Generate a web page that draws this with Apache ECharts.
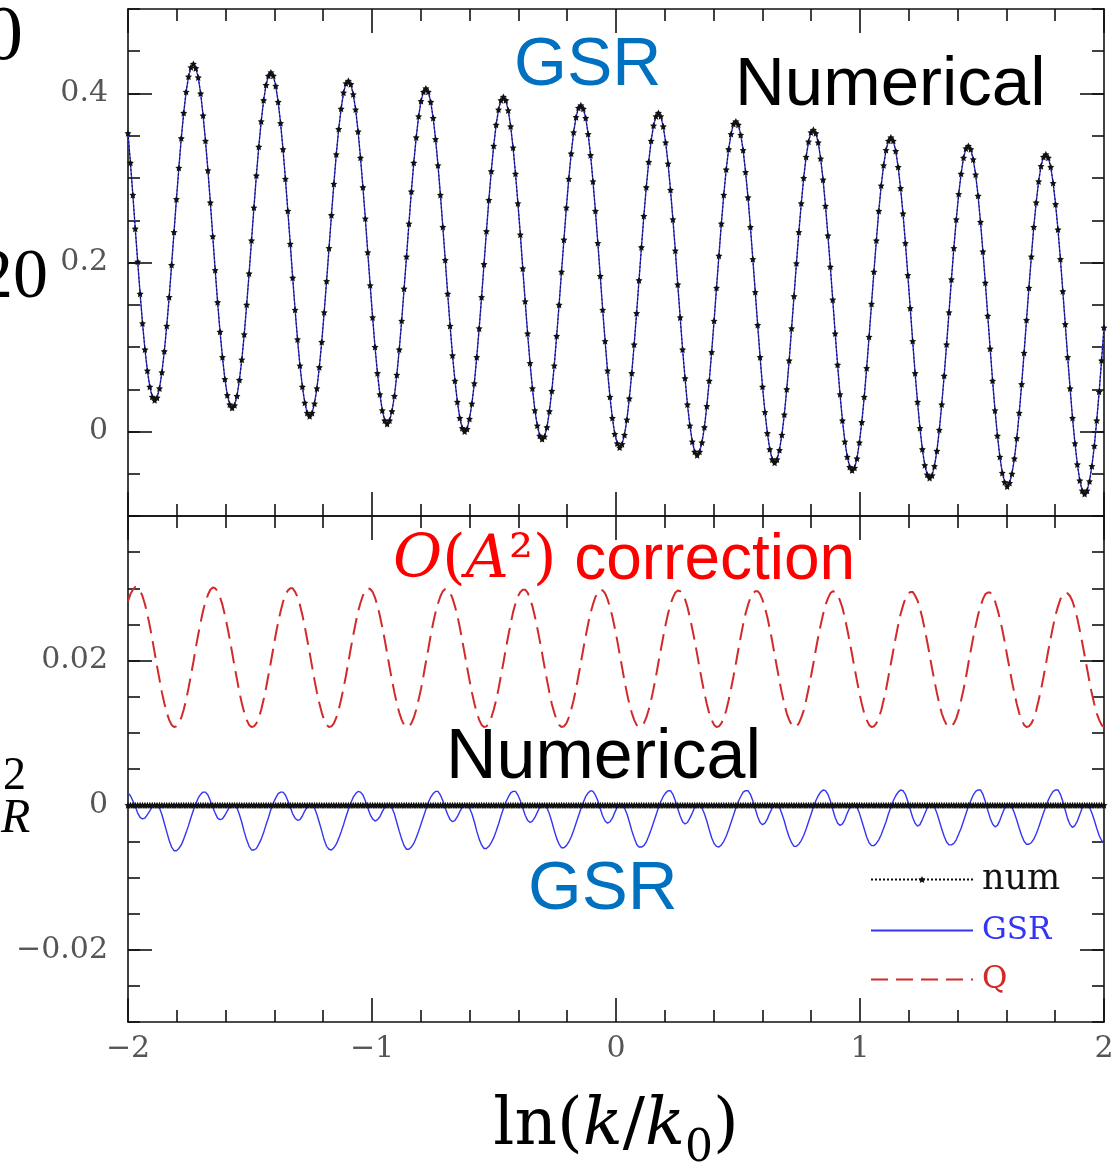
<!DOCTYPE html>
<html>
<head>
<meta charset="utf-8">
<script src="https://cdn.jsdelivr.net/npm/echarts@6/dist/echarts.min.js"></script>
<style>
  html, body { margin: 0; padding: 0; background: #fff; }
  #chart { width: 1114px; height: 1162px; }
</style>
</head>
<body>
<div id="chart"></div>
<script>
// ln(k/k0) range shared by both panels; every series is sampled on an even grid over it
const LNK_MIN = -2;
const LNK_MAX = 2;

// tick positions
const xMajorTicks = [-2, -1, 0, 1, 2];
const topMajorTicks = [0, 0.2, 0.4];
const topMinorTicks = [-0.1, -0.05, 0, 0.05, 0.1, 0.15, 0.2, 0.25, 0.3, 0.35, 0.4, 0.45, 0.5];
const bottomMajorTicks = [-0.02, 0, 0.02];
const bottomMinorTicks = [-0.03, -0.025, -0.02, -0.015, -0.01, -0.005, 0, 0.005, 0.01, 0.015, 0.02, 0.025, 0.03, 0.035, 0.04];

// upper panel: oscillating spectrum (numerical result; the GSR curve coincides with it)
const spectrum = [
  0.353,0.318,0.280,0.240,0.201,0.163,0.128,0.097,0.072,0.053,0.041,0.037,0.040,0.051,0.070,0.095,0.125,0.159,0.197,0.236,0.275,0.312,0.347,0.377,0.402,0.420,0.431,0.435,0.430,0.419,0.400,0.374,
  0.344,0.309,0.271,0.231,0.191,0.153,0.118,0.088,0.062,0.043,0.032,0.028,0.031,0.042,0.061,0.085,0.115,0.150,0.187,0.226,0.265,0.303,0.337,0.367,0.392,0.410,0.421,0.425,0.421,0.409,0.390,0.365,
  0.334,0.299,0.261,0.222,0.182,0.144,0.109,0.078,0.053,0.034,0.022,0.018,0.022,0.033,0.051,0.076,0.106,0.141,0.178,0.217,0.256,0.293,0.328,0.358,0.382,0.401,0.412,0.415,0.411,0.399,0.381,0.355,
  0.324,0.289,0.252,0.212,0.173,0.135,0.100,0.069,0.044,0.025,0.013,0.009,0.013,0.024,0.042,0.067,0.097,0.131,0.169,0.207,0.246,0.284,0.318,0.348,0.373,0.391,0.402,0.406,0.402,0.390,0.371,0.346,
  0.315,0.280,0.242,0.203,0.163,0.125,0.090,0.060,0.035,0.016,0.004,0.000,0.003,0.015,0.033,0.057,0.088,0.122,0.159,0.198,0.237,0.274,0.308,0.338,0.363,0.381,0.392,0.396,0.392,0.380,0.361,0.336,
  0.305,0.270,0.233,0.193,0.154,0.116,0.081,0.051,0.025,0.007,-0.005,-0.009,-0.006,0.005,0.024,0.048,0.078,0.113,0.150,0.189,0.227,0.265,0.299,0.329,0.354,0.372,0.383,0.386,0.382,0.371,0.352,0.327,
  0.296,0.261,0.223,0.184,0.144,0.107,0.072,0.041,0.016,-0.003,-0.014,-0.019,-0.015,-0.004,0.014,0.039,0.069,0.103,0.140,0.179,0.218,0.255,0.289,0.319,0.344,0.362,0.373,0.377,0.373,0.361,0.342,0.317,
  0.286,0.251,0.214,0.174,0.135,0.097,0.063,0.032,0.007,-0.012,-0.024,-0.028,-0.024,-0.013,0.005,0.030,0.060,0.094,0.131,0.170,0.208,0.246,0.280,0.310,0.334,0.352,0.364,0.367,0.363,0.351,0.333,0.307,
  0.277,0.242,0.204,0.165,0.126,0.088,0.053,0.023,-0.002,-0.021,-0.033,-0.037,-0.033,-0.022,-0.004,0.020,0.050,0.084,0.122,0.160,0.199,0.236,0.270,0.300,0.325,0.343,0.354,0.357,0.353,0.342,0.323,0.298,
  0.267,0.232,0.195,0.156,0.116,0.079,0.044,0.013,-0.012,-0.030,-0.042,-0.046,-0.043,-0.032,-0.013,0.011,0.041,0.075,0.112,0.151,0.189,0.226,0.261,0.291,0.315,0.333,0.344,0.348,0.344,0.332,0.313,0.288,
  0.258,0.223,0.185,0.146,0.107,0.069,0.035,0.004,-0.021,-0.040,-0.051,-0.055,-0.052,-0.041,-0.023,0.002,0.032,0.066,0.103,0.141,0.180,0.217,0.251,0.281,0.305,0.324,0.335,0.338,0.334,0.322,0.304,0.279,
  0.248,0.213,0.176,0.137,0.098,0.060,0.025,-0.005,-0.030,-0.049,-0.060,-0.065,-0.061,-0.050,-0.032,-0.008,0.022,0.056,0.093,0.132,0.170,0.207,0.242,0.271,0.296,0.314,0.325,0.328,0.324,0.313,0.294,0.269,
  0.239,0.204,0.166,0.127,0.088,0.051,0.016,-0.014,-0.039,-0.058,-0.070,-0.074,-0.070,-0.059,-0.041,-0.017,0.013,0.047,0.084,0.123
];

// lower panel: second-order correction Q
const qCorrection = [
  0.0282,0.0292,0.0298,0.0302,0.0301,0.0297,0.0289,0.0278,0.0264,0.0248,0.0230,0.0211,0.0192,0.0174,0.0156,0.0141,0.0128,0.0118,0.0111,0.0108,0.0109,0.0113,0.0121,0.0132,0.0146,0.0162,0.0180,0.0198,0.0218,0.0236,0.0253,0.0269,
  0.0281,0.0291,0.0298,0.0301,0.0300,0.0296,0.0288,0.0277,0.0263,0.0247,0.0230,0.0211,0.0192,0.0174,0.0156,0.0141,0.0128,0.0118,0.0111,0.0108,0.0109,0.0113,0.0121,0.0132,0.0146,0.0162,0.0180,0.0198,0.0217,0.0236,0.0253,0.0268,
  0.0281,0.0291,0.0297,0.0300,0.0300,0.0295,0.0288,0.0277,0.0263,0.0247,0.0229,0.0211,0.0192,0.0173,0.0156,0.0141,0.0128,0.0118,0.0111,0.0108,0.0109,0.0113,0.0121,0.0132,0.0146,0.0162,0.0179,0.0198,0.0217,0.0235,0.0252,0.0268,
  0.0280,0.0290,0.0297,0.0300,0.0299,0.0295,0.0287,0.0276,0.0262,0.0246,0.0229,0.0210,0.0191,0.0173,0.0156,0.0141,0.0128,0.0118,0.0111,0.0108,0.0109,0.0113,0.0121,0.0132,0.0146,0.0161,0.0179,0.0198,0.0216,0.0235,0.0252,0.0267,
  0.0279,0.0289,0.0296,0.0299,0.0298,0.0294,0.0286,0.0275,0.0262,0.0246,0.0228,0.0210,0.0191,0.0173,0.0156,0.0141,0.0128,0.0118,0.0111,0.0108,0.0109,0.0113,0.0121,0.0132,0.0145,0.0161,0.0179,0.0197,0.0216,0.0234,0.0251,0.0267,
  0.0279,0.0289,0.0295,0.0298,0.0298,0.0294,0.0286,0.0275,0.0261,0.0245,0.0228,0.0210,0.0191,0.0173,0.0156,0.0140,0.0128,0.0118,0.0111,0.0108,0.0109,0.0113,0.0121,0.0132,0.0145,0.0161,0.0179,0.0197,0.0216,0.0234,0.0251,0.0266,
  0.0278,0.0288,0.0295,0.0298,0.0297,0.0293,0.0285,0.0274,0.0261,0.0245,0.0228,0.0209,0.0191,0.0172,0.0155,0.0140,0.0128,0.0118,0.0111,0.0108,0.0109,0.0113,0.0121,0.0132,0.0145,0.0161,0.0178,0.0197,0.0215,0.0233,0.0250,0.0265,
  0.0278,0.0287,0.0294,0.0297,0.0296,0.0292,0.0285,0.0274,0.0260,0.0244,0.0227,0.0209,0.0190,0.0172,0.0155,0.0140,0.0127,0.0118,0.0111,0.0108,0.0109,0.0113,0.0121,0.0131,0.0145,0.0161,0.0178,0.0196,0.0215,0.0233,0.0250,0.0265,
  0.0277,0.0287,0.0293,0.0296,0.0296,0.0292,0.0284,0.0273,0.0260,0.0244,0.0227,0.0208,0.0190,0.0172,0.0155,0.0140,0.0127,0.0118,0.0111,0.0108,0.0109,0.0113,0.0121,0.0131,0.0145,0.0161,0.0178,0.0196,0.0215,0.0233,0.0249,0.0264,
  0.0277,0.0286,0.0293,0.0296,0.0295,0.0291,0.0283,0.0273,0.0259,0.0243,0.0226,0.0208,0.0190,0.0172,0.0155,0.0140,0.0127,0.0118,0.0111,0.0108,0.0109,0.0113,0.0121,0.0131,0.0145,0.0160,0.0178,0.0196,0.0214,0.0232,0.0249,0.0264,
  0.0276,0.0286,0.0292,0.0295,0.0295,0.0290,0.0283,0.0272,0.0259,0.0243,0.0226,0.0208,0.0189,0.0172,0.0155,0.0140,0.0127,0.0118,0.0111,0.0108,0.0109,0.0113,0.0120,0.0131,0.0145,0.0160,0.0177,0.0196,0.0214,0.0232,0.0248,0.0263,
  0.0275,0.0285,0.0292,0.0294,0.0294,0.0290,0.0282,0.0271,0.0258,0.0243,0.0226,0.0207,0.0189,0.0171,0.0155,0.0140,0.0127,0.0118,0.0111,0.0108,0.0109,0.0113,0.0120,0.0131,0.0145,0.0160,0.0177,0.0195,0.0214,0.0231,0.0248,0.0263,
  0.0275,0.0285,0.0291,0.0294,0.0293,0.0289,0.0282,0.0271,0.0258,0.0242,0.0225,0.0207,0.0189,0.0171,0.0154,0.0140,0.0127,0.0118,0.0111,0.0108
];

// lower panel: GSR minus numerical
const gsrDiff = [
  0.0017,0.0013,0.0006,-0.0002,-0.0011,-0.0017,-0.0019,-0.0018,-0.0013,-0.0008,-0.0002,0.0001,0.0001,-0.0004,-0.0013,-0.0025,-0.0037,-0.0049,-0.0058,-0.0063,-0.0063,-0.0060,-0.0055,-0.0047,-0.0038,-0.0028,-0.0017,-0.0007,0.0002,0.0010,0.0015,0.0018,
  0.0018,0.0014,0.0006,-0.0003,-0.0011,-0.0018,-0.0020,-0.0019,-0.0014,-0.0008,-0.0002,0.0001,0.0001,-0.0004,-0.0013,-0.0024,-0.0037,-0.0048,-0.0057,-0.0062,-0.0062,-0.0060,-0.0054,-0.0047,-0.0038,-0.0027,-0.0017,-0.0006,0.0003,0.0010,0.0016,0.0018,
  0.0018,0.0014,0.0006,-0.0003,-0.0012,-0.0018,-0.0021,-0.0020,-0.0015,-0.0008,-0.0003,0.0001,0.0001,-0.0004,-0.0013,-0.0024,-0.0036,-0.0048,-0.0057,-0.0061,-0.0062,-0.0059,-0.0054,-0.0046,-0.0037,-0.0027,-0.0016,-0.0006,0.0003,0.0011,0.0016,0.0019,
  0.0018,0.0014,0.0006,-0.0004,-0.0013,-0.0019,-0.0022,-0.0020,-0.0016,-0.0009,-0.0003,0.0001,0.0001,-0.0004,-0.0012,-0.0024,-0.0036,-0.0047,-0.0056,-0.0061,-0.0061,-0.0058,-0.0053,-0.0045,-0.0036,-0.0026,-0.0016,-0.0006,0.0004,0.0011,0.0016,0.0019,
  0.0019,0.0014,0.0006,-0.0004,-0.0013,-0.0020,-0.0023,-0.0021,-0.0016,-0.0009,-0.0003,0.0001,0.0001,-0.0004,-0.0012,-0.0023,-0.0036,-0.0047,-0.0055,-0.0060,-0.0060,-0.0057,-0.0052,-0.0045,-0.0036,-0.0026,-0.0015,-0.0005,0.0004,0.0011,0.0017,0.0019,
  0.0019,0.0014,0.0006,-0.0004,-0.0014,-0.0021,-0.0024,-0.0022,-0.0017,-0.0010,-0.0003,0.0001,0.0001,-0.0004,-0.0012,-0.0023,-0.0035,-0.0046,-0.0054,-0.0059,-0.0059,-0.0056,-0.0051,-0.0044,-0.0035,-0.0025,-0.0015,-0.0005,0.0004,0.0012,0.0017,0.0020,
  0.0019,0.0014,0.0006,-0.0005,-0.0015,-0.0022,-0.0025,-0.0023,-0.0018,-0.0010,-0.0003,0.0001,0.0001,-0.0004,-0.0012,-0.0023,-0.0035,-0.0045,-0.0054,-0.0058,-0.0058,-0.0056,-0.0051,-0.0043,-0.0034,-0.0024,-0.0014,-0.0004,0.0005,0.0012,0.0017,0.0020,
  0.0020,0.0015,0.0006,-0.0005,-0.0015,-0.0023,-0.0026,-0.0024,-0.0018,-0.0011,-0.0003,0.0001,0.0001,-0.0004,-0.0012,-0.0022,-0.0034,-0.0045,-0.0053,-0.0057,-0.0058,-0.0055,-0.0050,-0.0043,-0.0034,-0.0024,-0.0014,-0.0004,0.0005,0.0012,0.0018,0.0020,
  0.0020,0.0015,0.0006,-0.0005,-0.0016,-0.0024,-0.0027,-0.0025,-0.0019,-0.0011,-0.0004,0.0001,0.0001,-0.0003,-0.0012,-0.0022,-0.0034,-0.0044,-0.0052,-0.0057,-0.0057,-0.0054,-0.0049,-0.0042,-0.0033,-0.0023,-0.0013,-0.0003,0.0006,0.0013,0.0018,0.0021,
  0.0020,0.0015,0.0006,-0.0006,-0.0017,-0.0025,-0.0028,-0.0026,-0.0020,-0.0011,-0.0004,0.0001,0.0001,-0.0003,-0.0011,-0.0022,-0.0033,-0.0044,-0.0052,-0.0056,-0.0056,-0.0053,-0.0048,-0.0041,-0.0032,-0.0023,-0.0012,-0.0003,0.0006,0.0013,0.0018,0.0021,
  0.0020,0.0015,0.0005,-0.0006,-0.0017,-0.0025,-0.0029,-0.0027,-0.0020,-0.0012,-0.0004,0.0001,0.0001,-0.0003,-0.0011,-0.0022,-0.0033,-0.0043,-0.0051,-0.0055,-0.0055,-0.0053,-0.0048,-0.0040,-0.0032,-0.0022,-0.0012,-0.0002,0.0006,0.0014,0.0019,0.0021,
  0.0021,0.0015,0.0005,-0.0007,-0.0018,-0.0026,-0.0030,-0.0028,-0.0021,-0.0012,-0.0004,0.0001,0.0001,-0.0003,-0.0011,-0.0021,-0.0032,-0.0042,-0.0050,-0.0054,-0.0054,-0.0052,-0.0047,-0.0040,-0.0031,-0.0021,-0.0011,-0.0002,0.0007,0.0014,0.0019,0.0021,
  0.0021,0.0015,0.0005,-0.0007,-0.0019,-0.0027,-0.0031,-0.0028,-0.0022,-0.0013,-0.0004,0.0001,0.0001,-0.0003,-0.0011,-0.0021,-0.0032,-0.0042,-0.0049,-0.0053
];

// lower panel: numerical minus numerical (the reference line)
const numDiff = [
  0,0,0,0,0,0,0,0,0,0,0,0,0,0,0,0,0,0,0,0,0,0,0,0,0,0,0,0,0,0,0,0,
  0,0,0,0,0,0,0,0,0,0,0,0,0,0,0,0,0,0,0,0,0,0,0,0,0,0,0,0,0,0,0,0,
  0,0,0,0,0,0,0,0,0,0,0,0,0,0,0,0,0,0,0,0,0,0,0,0,0,0,0,0,0,0,0,0,
  0,0,0,0,0,0,0,0,0,0,0,0,0,0,0,0,0,0,0,0,0,0,0,0,0,0,0,0,0,0,0,0,
  0,0,0,0,0,0,0,0,0,0,0,0,0,0,0,0,0,0,0,0,0,0,0,0,0,0,0,0,0,0,0,0,
  0,0,0,0,0,0,0,0,0,0,0,0,0,0,0,0,0,0,0,0,0,0,0,0,0,0,0,0,0,0,0,0,
  0,0,0,0,0,0,0,0,0,0,0,0,0,0,0,0,0,0,0,0,0,0,0,0,0,0,0,0,0,0,0,0,
  0,0,0,0,0,0,0,0,0,0,0,0,0,0,0,0,0,0,0,0,0,0,0,0,0,0,0,0,0,0,0,0,
  0,0,0,0,0,0,0,0,0,0,0,0,0,0,0,0,0,0,0,0,0,0,0,0,0,0,0,0,0,0,0,0,
  0,0,0,0,0,0,0,0,0,0,0,0,0,0,0,0,0,0,0,0,0,0,0,0,0,0,0,0,0,0,0,0,
  0,0,0,0,0,0,0,0,0,0,0,0,0,0,0,0,0,0,0,0,0,0,0,0,0,0,0,0,0,0,0,0,
  0,0,0,0,0,0,0,0,0,0,0,0,0,0,0,0,0,0,0,0,0,0,0,0,0,0,0,0,0,0,0,0,
  0,0,0,0,0,0,0,0,0,0,0,0,0,0,0,0,0,0,0,0
];

// place each sample on the even ln(k/k0) grid
const onGrid = arr => arr.map((v, i) => [LNK_MIN + (LNK_MAX - LNK_MIN) * i / (arr.length - 1), v]);

const INK = '#111';
const GSR_BLUE = '#3434f4';
const Q_RED = '#d22a2a';
const TICK_FONT = { fontFamily: '"DejaVu Serif", serif', fontSize: 30, color: '#555' };
const STAR = 'path://M0,-10L2.9,-4L9.5,-3.1L4.7,1.5L5.9,8.1L0,5L-5.9,8.1L-4.7,1.5L-9.5,-3.1L-2.9,-4Z';
const minusSign = v => String(v).replace('-', '\u2212');
const edgeStyle = { color: INK, width: 1.6 };

function xAxisFor(grid, position, withLabels) {
  const ax = {
    type: 'value', gridIndex: grid, position, min: LNK_MIN, max: LNK_MAX, interval: 1,
    axisLine: { show: true, onZero: false, lineStyle: edgeStyle },
    axisTick: { show: true, inside: true, length: 24, lineStyle: edgeStyle },
    minorTick: { show: true, splitNumber: 5, length: 12, lineStyle: edgeStyle },
    splitLine: { show: false }, minorSplitLine: { show: false },
    axisLabel: withLabels
      ? Object.assign({ show: true, margin: 12, showMinLabel: true, showMaxLabel: true, formatter: minusSign }, TICK_FONT)
      : { show: false }
  };
  if (withLabels) {
    ax.name = '{u|ln(}{i|k}{u|/}{i|k}{s|0}{u|)}';
    ax.nameLocation = 'middle';
    ax.nameGap = 66;
    ax.nameTextStyle = {
      rich: {
        u: { fontFamily: '"DejaVu Serif", serif', fontSize: 66, color: '#000', lineHeight: 72, verticalAlign: 'bottom' },
        i: { fontFamily: '"DejaVu Serif", serif', fontStyle: 'italic', fontSize: 66, color: '#000', lineHeight: 72, verticalAlign: 'bottom' },
        s: { fontFamily: '"DejaVu Serif", serif', fontSize: 44, color: '#000', lineHeight: 72, verticalAlign: 'bottom', padding: [0, 0, -12, 0] }
      }
    };
  }
  return ax;
}

function yAxisFor(grid, position, min, max, ticks, len, labels, drawLine) {
  return {
    type: 'value', gridIndex: grid, position, min, max,
    axisLine: { show: drawLine, onZero: false, lineStyle: edgeStyle },
    axisTick: { show: true, inside: true, length: len, customValues: ticks, lineStyle: edgeStyle },
    splitLine: { show: false },
    axisLabel: labels
      ? Object.assign({ show: true, customValues: labels, margin: 20, formatter: minusSign }, TICK_FONT)
      : { show: false }
  };
}

const numStyle = {
  type: 'line', symbol: STAR, symbolSize: 7, showSymbol: true,
  itemStyle: { color: INK }, lineStyle: { color: INK, width: 1, type: [2, 2] }, z: 4
};
const gsrStyle = {
  type: 'line', showSymbol: false, symbol: 'none',
  itemStyle: { color: GSR_BLUE }, lineStyle: { color: GSR_BLUE, width: 1.4 }, z: 3
};

const option = {
  animation: false,
  backgroundColor: '#fff',
  grid: [
    { left: 128, top: 9, width: 976, height: 507, outerBoundsMode: 'none', containLabel: false },
    { left: 128, top: 516, width: 976, height: 506, outerBoundsMode: 'none', containLabel: false }
  ],
  xAxis: [
    xAxisFor(0, 'bottom', false),
    xAxisFor(0, 'top', false),
    xAxisFor(1, 'bottom', true),
    xAxisFor(1, 'top', false)
  ],
  yAxis: [
    yAxisFor(0, 'left', -0.1, 0.5, topMajorTicks, 24, topMajorTicks, true),
    yAxisFor(0, 'left', -0.1, 0.5, topMinorTicks, 12, null, false),
    yAxisFor(0, 'right', -0.1, 0.5, topMajorTicks, 24, null, true),
    yAxisFor(0, 'right', -0.1, 0.5, topMinorTicks, 12, null, false),
    yAxisFor(1, 'left', -0.03, 0.04, bottomMajorTicks, 24, bottomMajorTicks, true),
    yAxisFor(1, 'left', -0.03, 0.04, bottomMinorTicks, 12, null, false),
    yAxisFor(1, 'right', -0.03, 0.04, bottomMajorTicks, 24, null, true),
    yAxisFor(1, 'right', -0.03, 0.04, bottomMinorTicks, 12, null, false)
  ],
  legend: {
    orient: 'vertical', left: 870, top: 862, padding: 0,
    itemWidth: 102, itemHeight: 9, itemGap: 18,
    textStyle: { fontFamily: '"DejaVu Serif", serif', fontSize: 31, padding: [0, 0, 0, 4] },
    data: [
      { name: 'num', textStyle: { color: '#111', fontSize: 35 } },
      { name: 'GSR', textStyle: { color: GSR_BLUE }, itemStyle: { opacity: 0 } },
      { name: 'Q', textStyle: { color: Q_RED }, itemStyle: { opacity: 0 } }
    ]
  },
  series: [
    Object.assign({ name: 'GSR', xAxisIndex: 0, yAxisIndex: 0, data: onGrid(spectrum) }, gsrStyle),
    Object.assign({ name: 'num', xAxisIndex: 0, yAxisIndex: 0, data: onGrid(spectrum) }, numStyle),
    {
      name: 'Q', type: 'line', xAxisIndex: 2, yAxisIndex: 4, data: onGrid(qCorrection),
      showSymbol: false, symbol: 'none',
      itemStyle: { color: Q_RED }, lineStyle: { color: Q_RED, width: 2, type: [17, 8] }, z: 2
    },
    Object.assign({ name: 'GSR', xAxisIndex: 2, yAxisIndex: 4, data: onGrid(gsrDiff) }, gsrStyle),
    Object.assign({ name: 'num', xAxisIndex: 2, yAxisIndex: 4, data: onGrid(numDiff) }, numStyle)
  ],
  graphic: {
    elements: [
      { type: 'text', x: 514, y: 66, style: { text: 'GSR', font: '68px "Liberation Sans", Arial, sans-serif', fill: '#0070c0', textVerticalAlign: 'middle', verticalAlign: 'middle' } },
      { type: 'text', x: 735, y: 86, style: { text: 'Numerical', font: '69px "Liberation Sans", Arial, sans-serif', fill: '#000', textVerticalAlign: 'middle', verticalAlign: 'middle' } },
      { type: 'text', x: 393, y: 561, style: {
          text: '{m|O}{p|(}{m|A}{p|\u00b2)}{c| correction}',
          fill: '#ff0000', textVerticalAlign: 'middle', verticalAlign: 'middle',
          rich: {
            m: { font: 'italic 60px "DejaVu Serif", serif', fill: '#ff0000' },
            p: { font: '60px "DejaVu Serif", serif', fill: '#ff0000' },
            c: { font: '64px "Liberation Sans", Arial, sans-serif', fill: '#ff0000' }
          }
        } },
      { type: 'text', x: 446, y: 759, style: { text: 'Numerical', font: '70px "Liberation Sans", Arial, sans-serif', fill: '#000', textVerticalAlign: 'middle', verticalAlign: 'middle' } },
      { type: 'text', x: 528, y: 890, style: { text: 'GSR', font: '69px "Liberation Sans", Arial, sans-serif', fill: '#0070c0', textVerticalAlign: 'middle', verticalAlign: 'middle' } },
      { type: 'text', x: 23, y: 39, style: { text: '0', font: '78px "Liberation Serif", serif', fill: '#000', textAlign: 'right', align: 'right', textVerticalAlign: 'middle', verticalAlign: 'middle' } },
      { type: 'text', x: 48, y: 279, style: { text: '20', font: '70px "Liberation Serif", serif', fill: '#000', textAlign: 'right', align: 'right', textVerticalAlign: 'middle', verticalAlign: 'middle' } },
      { type: 'text', x: 3, y: 777, style: { text: '2', font: '46px "Liberation Serif", serif', fill: '#000', textVerticalAlign: 'middle', verticalAlign: 'middle' } },
      { type: 'text', x: 1, y: 819, style: { text: 'R', font: 'italic 48px "Liberation Serif", serif', fill: '#000', textVerticalAlign: 'middle', verticalAlign: 'middle' } }
    ]
  }
};

const chart = echarts.init(document.getElementById('chart'), null, { renderer: 'canvas' });
chart.setOption(option);
</script>
</body>
</html>
